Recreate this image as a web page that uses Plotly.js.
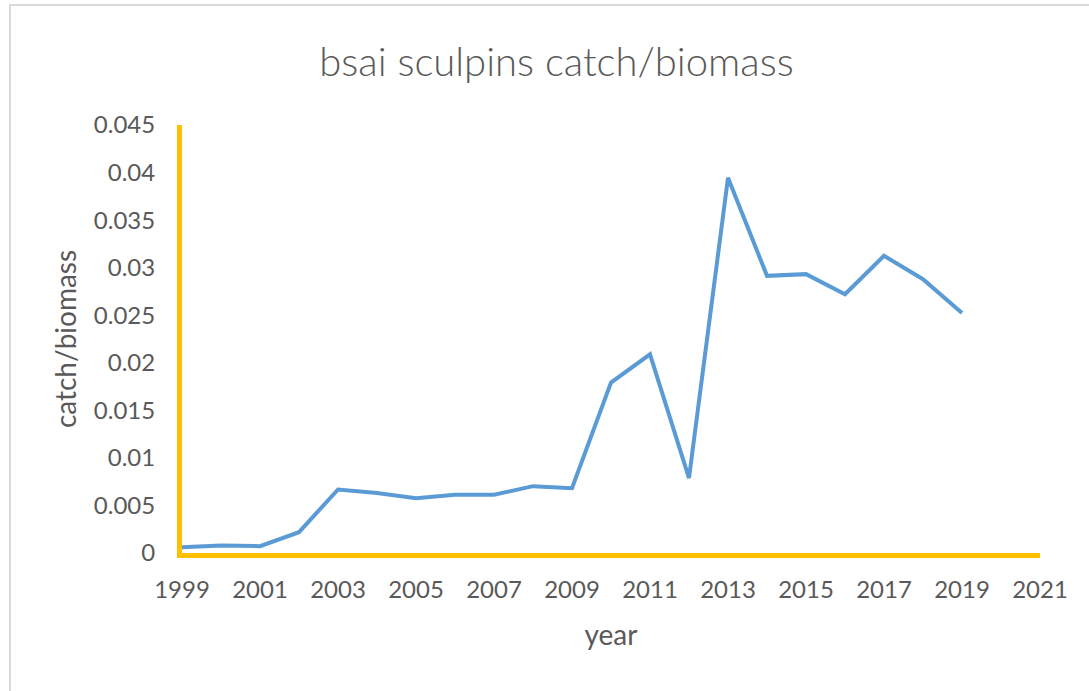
<!DOCTYPE html>
<html>
<head>
<meta charset="utf-8">
<script src="https://cdn.plot.ly/plotly-3.0.1.min.js"></script>
<style>
  html, body { margin: 0; padding: 0; background: #fff; }
  #wrap { position: relative; width: 1089px; height: 691px; overflow: hidden; }
  #chart { position: absolute; left: 0; top: 0; width: 1089px; height: 691px; }
  #frame { position: absolute; left: 9px; top: 4px; right: -5px; bottom: -5px;
           border-top: 2px solid #d9d9d9; border-left: 2px solid #d9d9d9; pointer-events: none; }
</style>
</head>
<body>
<div id="wrap">
  <div id="chart"></div>
  <div id="frame"></div>
</div>
<script>
const years = [1999, 2000, 2001, 2002, 2003, 2004, 2005, 2006, 2007, 2008, 2009,
               2010, 2011, 2012, 2013, 2014, 2015, 2016, 2017, 2018, 2019];
const catchBiomass = [0.00061, 0.00079, 0.00072, 0.00219, 0.00668, 0.0063, 0.00577,
                      0.00612, 0.00612, 0.00703, 0.00682, 0.01792, 0.02089, 0.00788,
                      0.03946, 0.02914, 0.02932, 0.02721, 0.03125, 0.02879, 0.02524];
const chartTitle = "bsai sculpins catch/biomass";
const xTitle = "year";
const yTitle = "catch/biomass";

const fontFam = "Lato, 'Open Sans', sans-serif";
const txtColor = "#595959";

Plotly.newPlot("chart", [{
  x: years,
  y: catchBiomass,
  type: "scatter",
  mode: "lines",
  line: { color: "#5B9BD5", width: 4 },
  hoverinfo: "x+y"
}], {
  width: 1089,
  height: 691,
  paper_bgcolor: "#ffffff",
  plot_bgcolor: "#ffffff",
  showlegend: false,
  margin: { l: 182, r: 49, t: 125, b: 138 },
  font: { family: fontFam, color: txtColor, size: 24 },
  title: {
    text: chartTitle,
    font: { family: fontFam, size: 40, color: txtColor, weight: 300 },
    x: 0.511, xref: "container", xanchor: "center",
    y: 0.910, yref: "container", yanchor: "middle"
  },
  xaxis: {
    range: [1999, 2021],
    tick0: 1999, dtick: 2,
    showgrid: false, zeroline: false,
    showline: true, linecolor: "#FFC000", linewidth: 5,
    ticks: "outside", ticklen: 11, tickcolor: "rgba(0,0,0,0)",
    tickfont: { family: fontFam, size: 24, color: txtColor },
    title: { text: xTitle, font: { family: fontFam, size: 28, color: txtColor }, standoff: 25 }
  },
  yaxis: {
    range: [0, 0.045],
    tick0: 0, dtick: 0.005,
    showgrid: false, zeroline: false,
    showline: true, linecolor: "#FFC000", linewidth: 5,
    ticks: "outside", ticklen: 17, tickcolor: "rgba(0,0,0,0)",
    tickfont: { family: fontFam, size: 24, color: txtColor },
    title: { text: yTitle, font: { family: fontFam, size: 28, color: txtColor }, standoff: 11 }
  }
}, { displayModeBar: false, staticPlot: true });
</script>
</body>
</html>
